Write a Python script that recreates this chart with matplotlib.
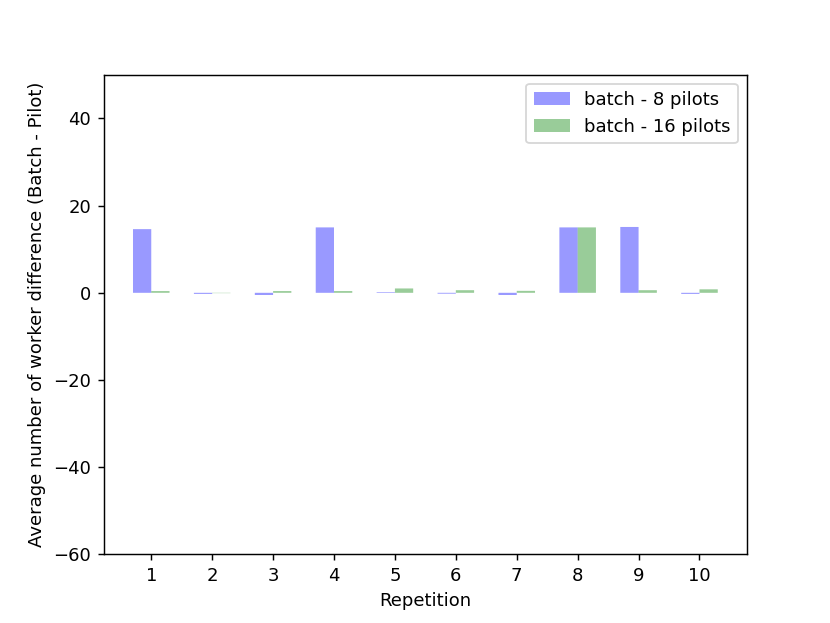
import matplotlib
matplotlib.use("Agg")
import matplotlib.pyplot as plt
import numpy as np

repetitions = [1, 2, 3, 4, 5, 6, 7, 8, 9, 10]
batch_8 = [14.6, -0.25, -0.5, 15.0, 0.15, -0.2, -0.5, 15.0, 15.1, -0.25]
batch_16 = [0.4, -0.08, 0.4, 0.4, 1.0, 0.6, 0.45, 15.0, 0.6, 0.8]
series_labels = ["batch - 8 pilots", "batch - 16 pilots"]

fig, ax = plt.subplots(figsize=(830/130, 623/130), dpi=130)
x = np.array(repetitions)
w = 0.3
ax.bar(x - w/2, batch_8, w, color="b", alpha=0.4, label=series_labels[0], snap=False)
ax.bar(x + w/2, batch_16, w, color="g", alpha=0.4, label=series_labels[1], snap=False)
ax.set_xticks(x)
ax.set_xticklabels([str(r) for r in repetitions])
ax.set_ylim(-60, 50)
ax.set_xlabel("Repetition")
ax.set_ylabel("Average number of worker difference (Batch - Pilot)")
ax.legend(loc="upper right")
fig.savefig("out.png", dpi=130)
